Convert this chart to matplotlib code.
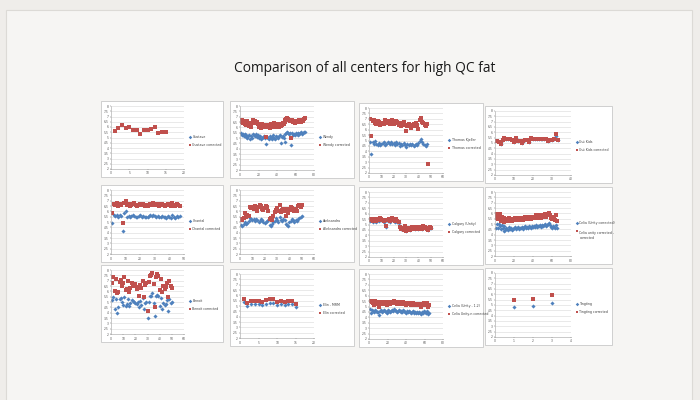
import numpy as np
import matplotlib
matplotlib.use("Agg")
import matplotlib.pyplot as plt
from matplotlib.patches import Rectangle

TITLE = "Comparison of all centers for high QC fat"
Y_TICKS = [2, 2.5, 3, 3.5, 4, 4.5, 5, 5.5, 6, 6.5, 7, 7.5, 8]

# ---- panel 1
p1_labels = ["Gustave", "Gustave corrected"]
p1_xticks = [0, 5, 10, 15, 20]
p1_blue = []
p1_red = [5.65, 5.9, 6.15, 5.9, 6.0, 5.75, 5.75, 5.3, 5.75, 5.7, 5.85, 6.0, 5.4, 5.55, 5.55]

# ---- panel 2
p2_labels = ["Wendy", "Wendy corrected"]
p2_xticks = [0, 20, 40, 60, 80]
p2_red = [6.5, 6.7, 6.4, 6.6, 6.3, 6.5, 6.2, 6.6, 6.4, 6.1,
          6.3, 6.0, 6.4, 6.7, 6.5, 6.6, 6.4, 6.5, 6.3, 6.2,
          6.0, 6.1, 5.9, 6.3, 6.2, 6.0, 6.1, 5.1, 6.2, 6.0,
          6.1, 5.9, 6.3, 6.1, 6.0, 6.2, 6.4, 6.1, 6.0, 6.3,
          6.2, 6.0, 6.3, 6.1, 6.2, 6.4, 6.3, 6.5, 6.7, 6.8,
          6.9, 6.8, 6.7, 6.6, 5.0, 6.7, 6.5, 6.6, 6.4, 6.6,
          6.5, 6.6, 6.5, 6.7, 6.6, 6.5, 6.7, 6.6, 6.8, 6.9]
p2_blue = [5.5, 5.3, 5.4, 5.2, 5.4, 5.1, 5.3, 5.0, 5.2, 5.3,
           4.9, 5.2, 5.0, 5.4, 5.3, 5.2, 5.4, 5.1, 5.3, 5.0,
           5.1, 5.2, 4.9, 5.0, 5.1, 5.2, 5.0, 4.4, 5.1, 5.0,
           4.9, 5.2, 5.0, 4.9, 5.1, 5.3, 5.0, 4.9, 5.2, 5.1,
           5.0, 5.2, 5.3, 4.5, 5.1, 5.2, 5.0, 4.6, 5.4, 5.5,
           5.6, 5.5, 5.4, 5.5, 4.3, 5.5, 5.3, 5.4, 5.3, 5.5,
           5.4, 5.5, 5.3, 5.4, 5.5, 5.6, 5.4, 5.5, 5.6, 5.6]

# ---- panel 3
p3_labels = ["Thomas Kjeller", "Thomas corrected"]
p3_xticks = [0, 10, 20, 30, 40, 50, 60]
p3_red = [7.0, 5.4, 6.8, 6.9, 6.6, 6.5, 6.8, 6.7, 6.4, 6.5, 6.6, 6.5, 6.9, 6.6, 6.7, 6.8,
          6.5, 6.7, 6.9, 6.5, 6.6, 6.8, 6.7, 6.4, 6.6, 6.3, 6.5, 6.7, 6.4, 5.9, 6.3, 6.5,
          6.4, 6.2, 6.4, 6.5, 6.3, 6.6, 6.4, 6.1, 6.9, 7.1, 6.7, 6.6, 6.4, 6.3, 6.5, 2.8]
p3_blue = [4.9, 3.8, 4.9, 4.7, 5.0, 4.7, 4.6, 4.8, 4.6, 4.7, 4.8, 4.9, 4.6, 4.7, 4.9, 4.8,
           4.7, 4.9, 4.7, 4.8, 4.6, 4.9, 4.7, 4.8, 4.5, 4.7, 4.6, 4.8, 4.6, 4.4, 4.7, 4.6,
           4.7, 4.6, 4.7, 4.5, 4.6, 4.7, 4.6, 4.8, 5.0, 5.1, 4.9, 4.7, 4.6, 4.5, 4.7]

# ---- panel 4
p4_labels = ["Gut Kids", "Gut Kids corrected"]
p4_xticks = [0, 10, 20, 30, 40]
p4_red = [5.2, 5.1, 4.9, 5.3, 5.5, 5.4, 5.4, 5.4, 5.3, 5.1, 5.5, 5.2, 5.2, 5.0, 5.2, 5.3, 5.3,
          5.1, 5.5, 5.4, 5.4, 5.4, 5.4, 5.4, 5.4, 5.4, 5.4, 5.2, 5.3, 5.3, 5.4, 5.8, 5.3]
p4_blue = [5.2, 5.1, 4.9, 5.3, 5.5, 5.4, 5.4, 5.4, 5.3, 5.1, 5.5, 5.2, 5.2, 5.0, 5.2, 5.3, 5.3,
           5.1, 5.5, 5.4, 5.4, 5.4, 5.4, 5.4, 5.4, 5.4, 5.4, 5.2, 5.3, 5.3, 5.4, 5.7, 5.3]

# ---- panel 5
p5_labels = ["Chantal", "Chantal corrected"]
p5_xticks = [0, 10, 20, 30, 40, 50]
p5_red = [5.8, 6.7, 6.6, 6.8, 6.5, 6.7, 6.6, 4.9, 6.8, 7.0, 6.6, 6.7, 6.5, 6.6, 6.7, 6.8,
          6.6, 6.5, 6.6, 6.7, 6.6, 6.7, 6.5, 6.6, 6.5, 6.6, 6.7, 6.6, 6.8, 6.7, 6.6, 6.7,
          6.5, 6.6, 6.7, 6.6, 6.5, 6.6, 6.7, 6.6, 6.5, 6.8, 6.6, 6.5, 6.7, 6.6, 6.5]
p5_blue = [4.9, 5.7, 5.6, 5.7, 5.5, 5.7, 5.6, 4.2, 5.8, 6.0, 5.5, 5.6, 5.5, 5.6, 5.7, 5.6,
           5.5, 5.5, 5.6, 5.7, 5.5, 5.6, 5.5, 5.5, 5.5, 5.6, 5.7, 5.6, 5.7, 5.6, 5.5, 5.6,
           5.5, 5.5, 5.6, 5.5, 5.5, 5.4, 5.6, 5.5, 5.4, 5.7, 5.5, 5.4, 5.6, 5.5, 5.6]

# ---- panel 6
p6_labels = ["Aleksandra", "Aleksandra corrected"]
p6_xticks = [0, 10, 20, 30, 40, 50, 60]
p6_red = [5.3, 5.2, 5.4, 5.8, 5.5, 5.7, 5.6, 6.4, 6.3, 6.4, 6.2, 6.5, 6.3, 6.0, 6.4, 6.6, 6.5,
          6.2, 6.1, 6.3, 6.5, 6.4, 6.0, 5.3, 5.4, 5.2, 5.6, 5.9, 6.1, 6.3, 6.0, 6.6, 5.9, 6.1,
          6.2, 6.0, 5.6, 6.2, 5.8, 6.1, 6.4, 6.3, 6.1, 6.0, 6.2, 6.0, 6.5, 6.6, 6.4, 6.6]
p6_blue = [4.7, 4.6, 4.8, 5.0, 4.8, 4.9, 5.1, 5.4, 5.3, 5.2, 5.3, 5.1, 5.3, 5.2, 5.0, 5.1, 5.3,
           5.2, 5.0, 4.9, 5.0, 5.1, 5.2, 4.7, 4.6, 4.8, 5.0, 5.1, 5.4, 5.2, 5.0, 5.5, 5.2, 5.1,
           5.3, 5.2, 4.8, 4.7, 4.6, 5.0, 5.1, 5.3, 5.2, 5.0, 5.2, 5.1, 5.3, 5.4, 5.5, 5.6]

# ---- panel 7
p7_labels = ["Calgary (Unity)", "Calgary corrected"]
p7_xticks = [0, 10, 20, 30, 40, 50, 60]
p7_red = [5.4, 5.5, 5.3, 5.5, 5.4, 5.3, 5.5, 5.4, 5.6, 5.5, 5.4, 5.3, 5.4, 4.9, 5.4, 5.5, 5.3,
          5.5, 5.6, 5.4, 5.3, 5.5, 5.3, 5.2, 4.8, 4.6, 4.7, 4.5, 4.9, 4.4, 4.6, 4.7, 4.5, 4.6,
          4.8, 4.7, 4.6, 4.8, 4.7, 4.6, 4.8, 4.7, 4.6, 4.9, 4.8, 4.7, 4.6, 4.5, 4.8, 4.7]
p7_blue = [5.3, 5.4, 5.2, 5.4, 5.3, 5.2, 5.4, 5.3, 5.5, 5.4, 5.3, 5.2, 5.3, 4.8, 5.3, 5.4, 5.2,
           5.4, 5.5, 5.3, 5.2, 5.4, 5.2, 5.1, 4.8, 4.6, 4.7, 4.5, 4.9, 4.4, 4.6, 4.7, 4.5, 4.6,
           4.8, 4.7, 4.6, 4.8, 4.7, 4.6, 4.8, 4.7, 4.6, 4.9, 4.8, 4.7, 4.6, 4.5, 4.8, 4.7]

# ---- panel 8
p8_labels = ["Celia (Unity corrected)", "Celia unity corrected -\ncorrected"]
p8_xticks = [0, 20, 40, 60, 80]
p8_red = [5.6, 5.9, 5.5, 5.8, 5.9, 5.3, 5.7, 5.4, 5.6, 5.2, 5.3, 5.5, 5.4, 5.3, 5.6, 5.4, 5.5,
          5.3, 5.4, 5.5, 5.6, 5.4, 5.5, 5.6, 5.4, 5.5, 5.5, 5.6, 5.4, 5.5, 5.6, 5.7, 5.5, 5.6,
          5.5, 5.7, 5.6, 5.5, 5.7, 5.6, 5.7, 5.6, 5.8, 5.6, 5.7, 5.7, 5.8, 5.6, 5.7, 5.8, 5.7,
          5.8, 5.9, 5.7, 5.8, 5.9, 6.0, 5.8, 5.6, 5.5, 5.7, 5.6, 5.4, 5.8, 5.3]
p8_blue = [4.6, 5.0, 4.6, 5.0, 4.8, 4.5, 4.9, 4.6, 4.8, 4.3, 4.4, 4.6, 4.5, 4.4, 4.7, 4.5, 4.6,
           4.4, 4.5, 4.6, 4.7, 4.5, 4.6, 4.7, 4.5, 4.6, 4.6, 4.7, 4.5, 4.6, 4.7, 4.8, 4.6, 4.7,
           4.6, 4.8, 4.7, 4.6, 4.8, 4.7, 4.8, 4.7, 4.9, 4.7, 4.8, 4.8, 4.9, 4.7, 4.8, 4.9, 4.8,
           4.9, 5.0, 4.8, 4.9, 5.0, 5.1, 4.9, 4.7, 4.6, 4.8, 4.7, 4.6, 4.9, 4.6]

# ---- panel 9
p9_labels = ["Benoit", "Benoit corrected"]
p9_xticks = [0, 10, 20, 30, 40, 50, 60]
p9_red = [6.8, 7.3, 6.0, 7.2, 5.8, 5.9, 6.9, 7.1, 6.5, 6.8, 7.3, 6.1, 6.2, 7.0, 5.9, 6.3, 6.8,
          6.6, 6.5, 6.7, 6.2, 6.4, 5.6, 6.6, 6.3, 7.0, 5.5, 6.6, 6.8, 4.2, 6.9, 7.4, 7.5, 7.7,
          6.7, 4.5, 7.3, 7.6, 7.4, 6.1, 7.2, 5.9, 6.5, 6.2, 6.4, 6.8, 5.5, 7.0, 6.5, 6.3]
p9_blue = [5.2, 5.5, 4.3, 5.3, 4.0, 4.5, 5.3, 5.4, 5.0, 4.7, 5.5, 4.6, 4.8, 5.3, 4.6, 4.9, 5.2,
           5.1, 5.0, 4.9, 4.8, 5.0, 4.5, 5.1, 4.7, 5.4, 4.3, 4.9, 5.0, 3.5, 5.0, 5.6, 5.6, 5.8,
           4.9, 3.7, 5.6, 5.7, 5.6, 4.6, 5.4, 4.3, 4.9, 4.7, 4.8, 5.2, 4.2, 5.3, 4.9, 5.0]

# ---- panel 10
p10_labels = ["Elin - MRM", "Elin corrected"]
p10_xticks = [0, 5, 10, 15, 20]
p10_red = [5.7, 5.3, 5.5, 5.5, 5.5, 5.4, 5.6, 5.7, 5.7, 5.4, 5.5, 5.4, 5.5, 5.5, 5.2]
p10_blue = [5.4, 5.0, 5.2, 5.2, 5.2, 5.1, 5.2, 5.3, 5.3, 5.1, 5.2, 5.1, 5.2, 5.2, 4.9]

# ---- panel 11
p11_labels = ["Celia (Unity - 1.2)", "Celia Unity-n corrected"]
p11_xticks = [0, 20, 40, 60, 80]
p11_red = [5.5, 5.5, 5.4, 5.3, 5.1, 5.4, 5.5, 5.3, 5.4, 5.2, 5.0, 5.3, 5.4, 5.2, 5.3, 5.4, 5.3,
           5.2, 5.1, 5.3, 5.4, 5.3, 5.2, 5.3, 5.4, 5.3, 5.5, 5.4, 5.3, 5.2, 5.3, 5.4, 5.3, 5.2,
           5.3, 5.2, 5.4, 5.3, 5.2, 5.1, 5.3, 5.2, 5.3, 5.2, 5.1, 5.2, 5.3, 5.2, 5.1, 5.2, 5.1,
           5.2, 5.1, 5.2, 5.1, 5.0, 5.2, 5.1, 5.3, 5.2, 5.1, 5.2, 5.3, 5.0, 5.1]
p11_blue = [4.8, 4.4, 4.7, 4.6, 4.5, 4.7, 4.6, 4.6, 4.5, 4.5, 4.2, 4.6, 4.7, 4.5, 4.6, 4.7, 4.6,
            4.5, 4.4, 4.6, 4.7, 4.6, 4.5, 4.6, 4.7, 4.6, 4.8, 4.7, 4.6, 4.5, 4.6, 4.7, 4.6, 4.5,
            4.6, 4.5, 4.7, 4.6, 4.5, 4.4, 4.6, 4.5, 4.6, 4.5, 4.4, 4.5, 4.6, 4.5, 4.4, 4.5, 4.4,
            4.5, 4.4, 4.5, 4.4, 4.3, 4.5, 4.4, 4.6, 4.5, 4.4, 4.5, 4.6, 4.3, 4.4]

# ---- panel 12
p12_labels = ["Tingting", "Tingting corrected"]
p12_xticks = [0, 1, 2, 3, 4]
p12_red = [5.5, 5.6, 5.9]
p12_blue = [4.8, 4.9, 5.15]

panels = [
    (p1_labels, p1_xticks, p1_blue, p1_red),
    (p2_labels, p2_xticks, p2_blue, p2_red),
    (p3_labels, p3_xticks, p3_blue, p3_red),
    (p4_labels, p4_xticks, p4_blue, p4_red),
    (p5_labels, p5_xticks, p5_blue, p5_red),
    (p6_labels, p6_xticks, p6_blue, p6_red),
    (p7_labels, p7_xticks, p7_blue, p7_red),
    (p8_labels, p8_xticks, p8_blue, p8_red),
    (p9_labels, p9_xticks, p9_blue, p9_red),
    (p10_labels, p10_xticks, p10_blue, p10_red),
    (p11_labels, p11_xticks, p11_blue, p11_red),
    (p12_labels, p12_xticks, p12_blue, p12_red),
]

# panel boxes in pixels (x, y-top, w, h)
boxes = [(101, 101, 122, 76), (230, 101, 124, 77), (359, 103, 124, 78), (485, 106, 127, 77),
         (101, 185, 122, 77), (230, 185, 124, 77), (359, 187, 124, 78), (485, 187, 127, 77),
         (101, 265, 122, 77), (230, 269, 124, 77), (359, 269, 124, 78), (485, 268, 127, 77)]

W, H = 700, 400
BLUE = "#4F81BD"
RED = "#C0504D"

fig = plt.figure(figsize=(7, 4), dpi=100)
fig.patch.set_facecolor("#efedea")

bg = fig.add_axes([0, 0, 1, 1])
bg.set_xlim(0, W)
bg.set_ylim(H, 0)
bg.axis("off")
bg.add_patch(Rectangle((6, 10), 686, 395, facecolor="#f6f5f3", edgecolor="#dcdad6", lw=0.8))
bg.text(365, 68, TITLE, ha="center", va="center", fontsize=9.9, family="Open Sans", color="#1a1a1a")

for (labels, xt, blue, red), (bx, by, bw, bh) in zip(panels, boxes):
    bg.add_patch(Rectangle((bx, by), bw, bh, facecolor="white", edgecolor="#c8c8c8", lw=0.6))
    left = bx + 10
    top = by + 5
    pw = 73 * bw / 122
    ph = bh - 13
    ax = fig.add_axes([left / W, 1 - (top + ph) / H, pw / W, ph / H])
    ax.set_facecolor("white")
    ax.set_ylim(2, 8)
    ax.set_yticks(Y_TICKS)
    ax.set_yticklabels([("%g" % v) for v in Y_TICKS])
    ax.set_xlim(xt[0], xt[-1])
    ax.set_xticks(xt)
    ax.grid(axis="y", color="#d9d9d9", lw=0.4)
    ax.set_axisbelow(True)
    for s in ["top", "right"]:
        ax.spines[s].set_visible(False)
    for s in ["left", "bottom"]:
        ax.spines[s].set_color("#a0a0a0")
        ax.spines[s].set_linewidth(0.4)
    ax.tick_params(labelsize=2.2, colors="#555555", length=1, width=0.3, pad=0.8)
    ax.plot(np.arange(1, len(blue) + 1), blue, linestyle="none", marker="D",
            markersize=2.1, color=BLUE, markeredgewidth=0)
    ax.plot(np.arange(1, len(red) + 1), red, linestyle="none", marker="s",
            markersize=2.4, color=RED, markeredgewidth=0)
    lx = bx + pw + 16
    ly = by + bh * 0.47
    bg.plot([lx], [ly], marker="D", markersize=1.8, color=BLUE, markeredgewidth=0)
    bg.text(lx + 2.5, ly, labels[0], fontsize=2.3, va="center", ha="left", color="#444444")
    bg.plot([lx], [ly + 8], marker="s", markersize=2.0, color=RED, markeredgewidth=0)
    bg.text(lx + 2.5, ly + 8, labels[1], fontsize=2.3, va="top" if "\n" in labels[1] else "center",
            ha="left", color="#444444", linespacing=1.3)

fig.savefig("out.png", dpi=100, facecolor=fig.get_facecolor())
